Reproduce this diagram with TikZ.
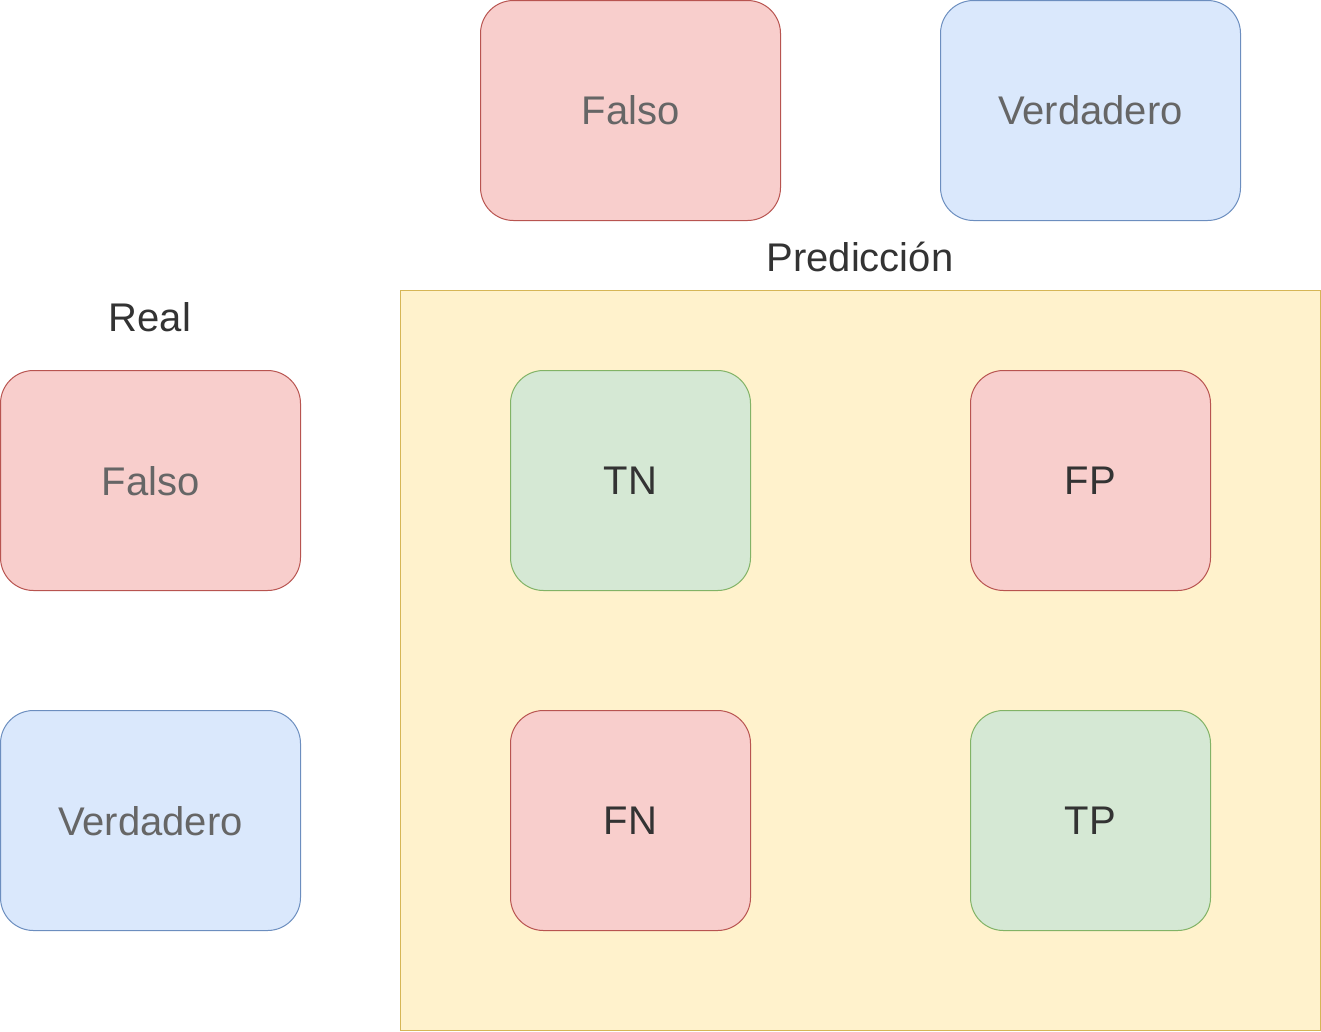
\documentclass[tikz,border=0pt]{standalone}
\usepackage{fontspec}
\setmainfont{Liberation Sans}
\definecolor{redfill}{HTML}{F8CECC}
\definecolor{redline}{HTML}{B85450}
\definecolor{bluefill}{HTML}{DAE8FC}
\definecolor{blueline}{HTML}{6C8EBF}
\definecolor{greenfill}{HTML}{D5E8D4}
\definecolor{greenline}{HTML}{82B366}
\definecolor{yelfill}{HTML}{FFF2CC}
\definecolor{yelline}{HTML}{D6B656}
\definecolor{txtlight}{HTML}{666666}
\definecolor{txtdark}{HTML}{333333}
\tikzset{
  box/.style={rectangle, rounded corners=33pt, line width=1pt, inner sep=0pt,
    font=\fontsize{40}{48}\selectfont, text depth=0pt},
  wide/.style={box, minimum width=300pt, minimum height=220pt, text=txtlight},
  cell/.style={box, minimum width=240pt, minimum height=220pt, text=txtdark},
  redbox/.style={fill=redfill, draw=redline},
  bluebox/.style={fill=bluefill, draw=blueline},
  greenbox/.style={fill=greenfill, draw=greenline},
  lbl/.style={inner sep=0pt, font=\fontsize{40}{48}\selectfont, text=txtdark, text depth=0pt}
}
\begin{document}
\begin{tikzpicture}[x=1pt,y=-1pt]
\useasboundingbox (0,0) rectangle (1321,1031);
\node[draw=yelline, fill=yelfill, line width=1pt, rectangle, inner sep=0pt,
  minimum width=920pt, minimum height=740pt] (grid) at (860.5,660.5) {};
\node[wide, redbox] (topF) at (630.5,110.5) {Falso};
\node[wide, bluebox] (topV) at (1090.5,110.5) {Verdadero};
\node[wide, redbox] (leftF) at (150.5,480.5) {Falso};
\node[wide, bluebox] (leftV) at (150.5,820.5) {Verdadero};
\node[cell, greenbox] (TN) at (630.5,480.5) {TN};
\node[cell, redbox] (FP) at (1090.5,480.5) {FP};
\node[cell, redbox] (FN) at (630.5,820.5) {FN};
\node[cell, greenbox] (TP) at (1090.5,820.5) {TP};
\node[lbl] (pred) at (860,257) {Predicción};
\node[lbl] (real) at (150,317) {Real};
\end{tikzpicture}
\end{document}
